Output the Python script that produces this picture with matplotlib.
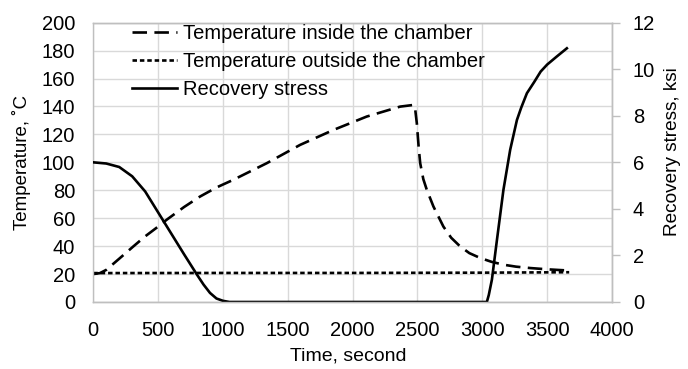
import numpy as np
import matplotlib.pyplot as plt

plt.rcParams['font.family'] = ['Liberation Sans', 'DejaVu Sans']

# inside chamber temperature (deg C)
t_in = [0, 52, 100, 200, 309, 400, 500, 566, 700, 823, 950, 1080, 1338, 1595,
        1852, 2109, 2366, 2469, 2480, 2495, 2510, 2521, 2545, 2572, 2623, 2700,
        2760, 2829, 2900, 2984, 3070, 3163, 3260, 3370, 3500, 3650]
T_in = [20, 20.7, 23, 31, 39.8, 47, 54, 58.9, 68, 75.5, 82, 87.5, 99.4, 112.5,
        123.2, 132.8, 139.9, 141.1, 140, 128, 110, 99.4, 88, 80.3, 68.4, 54,
        46, 39.8, 35, 31.5, 28.8, 26.7, 25.3, 24.3, 23.4, 22.6]

# outside chamber temperature (deg C)
t_out = [0, 1000, 2000, 3000, 3670]
T_out = [20.7, 20.8, 20.8, 21.0, 21.3]

# recovery stress (ksi)
t_rs = [0, 100, 200, 300, 400, 500, 600, 700, 800, 850, 900, 950, 1000, 1050,
        2000, 3035, 3050, 3074, 3113, 3163, 3215, 3267, 3300, 3344, 3400, 3450,
        3500, 3575, 3652]
s_rs = [6.0, 5.95, 5.8, 5.4, 4.75, 3.85, 2.95, 2.05, 1.17, 0.75, 0.39, 0.15, 0.05, 0.0,
        0.0, 0.0, 0.3, 0.96, 2.67, 4.82, 6.54, 7.82, 8.35, 8.97, 9.45, 9.9,
        10.2, 10.55, 10.9]

grid_c = '#d9d9d9'
axis_c = '#bfbfbf'

fig = plt.figure(figsize=(6.88, 3.69), dpi=100)
ax = fig.add_axes([0.1356, 0.1816, 0.7539, 0.7569])
ax2 = ax.twinx()

l1, = ax.plot(t_in, T_in, color='black', lw=1.9, dashes=(5.5, 2.8),
              label='Temperature inside the chamber')
l2, = ax.plot(t_out, T_out, color='black', lw=1.9, dashes=(1.7, 1.1),
              label='Temperature outside the chamber')
l3, = ax2.plot(t_rs, s_rs, color='black', lw=1.9, label='Recovery stress')

ax.set_xlim(0, 4000)
ax.set_ylim(0, 200)
ax.set_xticks(np.arange(0, 4001, 500))
ax.set_yticks(np.arange(0, 201, 20))
ax2.set_ylim(0, 12)
ax2.set_yticks(np.arange(0, 13, 2))

ax.grid(True, color=grid_c, lw=1)
ax.set_axisbelow(True)
for a in (ax, ax2):
    for s in a.spines.values():
        s.set_color(axis_c)
        s.set_linewidth(1)
    a.tick_params(labelsize=14.5, colors=axis_c, labelcolor='black')
ax.tick_params(axis='x', length=0, pad=14)
ax.tick_params(axis='y', length=0, pad=13)
ax2.tick_params(axis='y', length=6, width=1, pad=9)
ax2.spines['left'].set_visible(False)

# axis titles, placed where the reference has them
ax.set_xlabel('Time, second', fontsize=14, va='center', ha='center')
ax.xaxis.set_label_coords(0.492, -0.195)
ax.set_ylabel('Temperature, ˚C', fontsize=13.5, va='center', ha='center')
ax.yaxis.set_label_coords(-0.1375, 0.498)
ax2.set_ylabel('Recovery stress, ksi', fontsize=13.7, va='center', ha='center')
ax2.yaxis.set_label_coords(1.116, 0.5375)

ax.legend(handles=[l1, l2, l3], loc='upper left', bbox_to_anchor=(0.06, 1.025),
          frameon=False, fontsize=14.5, handlelength=2.2, handletextpad=0.3,
          labelspacing=0.45, borderaxespad=0)

fig.savefig('out.png', dpi=100)
